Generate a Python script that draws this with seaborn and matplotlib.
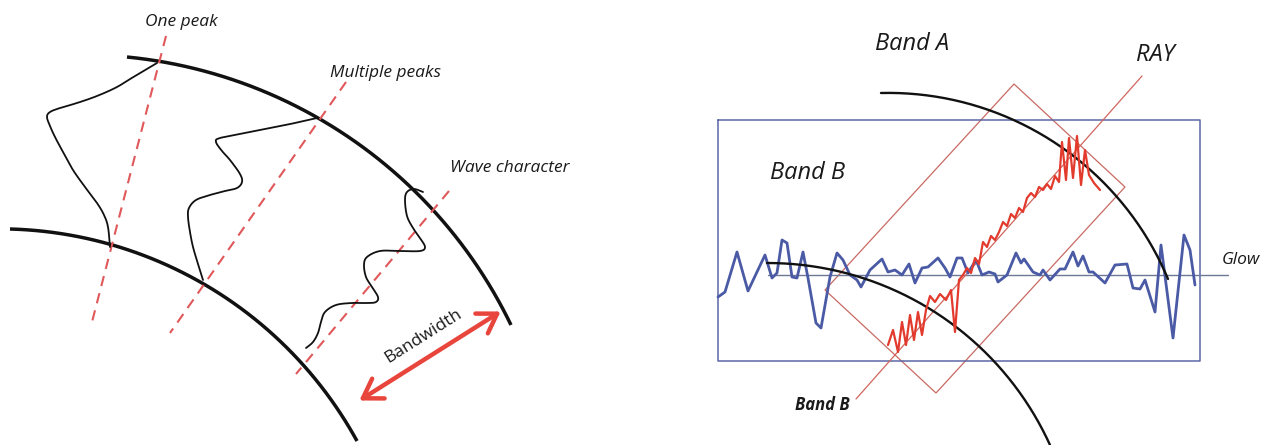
import numpy as np
import pandas as pd
import seaborn as sns
import matplotlib.pyplot as plt
from matplotlib.patches import Polygon, FancyArrowPatch

sns.set_theme(style="white")
plt.rcParams["font.family"] = ["Open Sans", "DejaVu Sans"]

# --- left panel: band edges (start, middle, end points of each arc) ---
outer_arc = [(127, 57), (318, 118), (511, 325)]
inner_arc = [(10, 229), (202, 283), (357, 441)]

# dashed red section lines (top end, bottom end)
cut_one = [(166, 36), (92, 322)]
cut_multi = [(346, 82), (170, 333)]
cut_wave = [(449, 191), (296, 374)]

# hand drawn profiles inside the band
one_peak_x = [157, 135, 117, 97, 77, 60, 50, 47, 50, 55, 63, 73, 85, 97, 104, 108, 110]
one_peak_y = [63, 76, 87, 96, 103, 108, 112, 117, 126, 137, 152, 170, 187, 203, 215, 227, 247]

multi_x = [317, 295, 270, 245, 220, 216, 222, 230, 240, 242, 237, 225, 210, 196, 189, 188, 190, 193, 198, 203]
multi_y = [118, 123, 128, 133, 138, 142, 151, 160, 174, 182, 188, 191, 195, 200, 208, 217, 232, 247, 264, 280]

wave_x = [423, 414, 407, 405, 407, 413, 420, 425, 420, 400, 380, 367, 364, 366, 372, 378, 376, 368, 352, 336, 325, 321, 318, 313, 306]
wave_y = [192, 189, 192, 200, 216, 228, 238, 247, 251, 251, 251, 257, 265, 277, 287, 297, 302, 303, 303, 305, 312, 322, 333, 342, 348]

bandwidth_arrow = [(357, 402), (503, 310)]

# --- right panel ---
band_a_arc = [(881, 93), (1117, 197), (1168, 279)]
band_b_arc = [(767, 263), (960, 330), (1050, 445)]

box_x = [718, 1200]
box_y = [120, 361]
glow_level = 275
glow_span = [768, 1228]

ray_line = [(1142, 76), (856, 399)]
ray_box = [(1014, 84), (1125, 187), (936, 393), (825, 290)]

# blue glow signal
glow_x = [718, 725, 737, 748, 765, 772, 777, 782, 787, 792, 797, 803, 808, 816, 821,
          830, 837, 843, 850, 857, 861, 870, 882, 888, 895, 902, 909, 915, 922, 928,
          938, 945, 950, 957, 962, 968, 976, 982, 989, 995, 998, 1007, 1016, 1021,
          1024, 1033, 1040, 1043, 1050, 1060, 1065, 1073, 1078, 1083, 1089, 1093,
          1105, 1115, 1127, 1133, 1140, 1145, 1155, 1161, 1173, 1184, 1190, 1195]
glow_y = [297, 292, 252, 291, 255, 278, 273, 240, 243, 277, 278, 252, 278, 323, 328,
          277, 253, 260, 275, 280, 287, 270, 259, 272, 270, 275, 264, 283, 268, 267,
          258, 268, 277, 258, 258, 273, 260, 275, 272, 274, 282, 275, 253, 263,
          259, 272, 275, 270, 280, 269, 269, 252, 266, 256, 272, 272,
          283, 265, 264, 288, 289, 280, 312, 245, 338, 235, 250, 285]

# red ray signal
ray_x = [888, 893, 898, 902, 906, 910, 914, 918, 922, 926, 930, 935, 940, 946, 951,
         955, 959, 963, 967, 971, 975, 979, 983, 987, 991, 995, 999, 1003, 1007,
         1011, 1015, 1019, 1023, 1027, 1031, 1035, 1039, 1043, 1047, 1051, 1055,
         1059, 1062, 1066, 1069, 1073, 1077, 1081, 1085, 1089, 1094, 1100]
ray_y = [345, 330, 352, 322, 345, 315, 340, 312, 335, 310, 296, 302, 294, 300, 290,
         332, 280, 275, 268, 273, 258, 264, 242, 247, 236, 240, 232, 222, 226,
         214, 218, 208, 212, 198, 193, 197, 187, 190, 184, 189, 176,
         182, 142, 180, 138, 178, 136, 185, 150, 175, 183, 190]


def arc3(p1, p2, p3, n=200):
    # circle through three points
    (x1, y1), (x2, y2), (x3, y3) = p1, p2, p3
    d = 2 * (x1 * (y2 - y3) + x2 * (y3 - y1) + x3 * (y1 - y2))
    ux = ((x1**2 + y1**2) * (y2 - y3) + (x2**2 + y2**2) * (y3 - y1) + (x3**2 + y3**2) * (y1 - y2)) / d
    uy = ((x1**2 + y1**2) * (x3 - x2) + (x2**2 + y2**2) * (x1 - x3) + (x3**2 + y3**2) * (x2 - x1)) / d
    r = np.hypot(x1 - ux, y1 - uy)
    a = np.unwrap([np.arctan2(y - uy, x - ux) for x, y in (p1, p2, p3)])
    t = np.linspace(a[0], a[2], n)
    return ux + r * np.cos(t), uy + r * np.sin(t)


def smooth(xs, ys, k=12):
    # catmull-rom through the points
    p = np.column_stack([xs, ys]).astype(float)
    p = np.vstack([p[0], p, p[-1]])
    out = []
    for i in range(1, len(p) - 2):
        p0, p1, p2, p3 = p[i - 1], p[i], p[i + 1], p[i + 2]
        for t in np.linspace(0, 1, k, endpoint=False):
            t2, t3 = t * t, t * t * t
            out.append(0.5 * ((2 * p1) + (-p0 + p2) * t + (2 * p0 - 5 * p1 + 4 * p2 - p3) * t2
                              + (-p0 + 3 * p1 - 3 * p2 + p3) * t3))
    out.append(p[-2])
    out = np.array(out)
    return out[:, 0], out[:, 1]


fig = plt.figure(figsize=(12.64, 4.45), dpi=100)
ax = fig.add_axes([0, 0, 1, 1])

black = "#111111"
dash_red = "#e0585a"
arrow_red = "#e8453c"
txt = "#1a1a1a"

# left panel
for arc in (outer_arc, inner_arc):
    ax.plot(*arc3(*arc), color=black, lw=2.5, solid_capstyle="butt")
for cut in (cut_one, cut_multi, cut_wave):
    ax.plot([cut[0][0], cut[1][0]], [cut[0][1], cut[1][1]], color=dash_red, lw=1.5,
            dashes=(5, 3.5))
for xs, ys in ((one_peak_x, one_peak_y), (multi_x, multi_y), (wave_x, wave_y)):
    ax.plot(*smooth(xs, ys), color=black, lw=1.3)

ax.add_patch(FancyArrowPatch(bandwidth_arrow[0], bandwidth_arrow[1],
                             arrowstyle="<->,head_length=11,head_width=7",
                             color=arrow_red, lw=3.2, mutation_scale=1.2))
ang = np.degrees(np.arctan2(bandwidth_arrow[0][1] - bandwidth_arrow[1][1],
                            bandwidth_arrow[1][0] - bandwidth_arrow[0][0]))
ax.text(423, 336, "Bandwidth", rotation=ang, fontsize=12.5, ha="center", va="center",
        color=txt, rotation_mode="anchor")

ax.text(181, 22, "One peak", fontsize=12.5, style="italic", ha="center", va="center", color=txt)
ax.text(385, 73, "Multiple peaks", fontsize=12.5, style="italic", ha="center", va="center", color=txt)
ax.text(510, 168, "Wave character", fontsize=12.5, style="italic", ha="center", va="center", color=txt)

# right panel
ax.plot([box_x[0], box_x[1], box_x[1], box_x[0], box_x[0]],
        [box_y[0], box_y[0], box_y[1], box_y[1], box_y[0]], color="#5b67a6", lw=1.1)
ax.plot(glow_span, [glow_level, glow_level], color="#6b7896", lw=1.0)
ax.add_patch(Polygon(ray_box, closed=True, fill=False, edgecolor="#c96a63", lw=0.9))
ax.plot([ray_line[0][0], ray_line[1][0]], [ray_line[0][1], ray_line[1][1]], color="#d0665e", lw=0.9)

sig = pd.DataFrame({"x": glow_x, "y": glow_y})
sns.lineplot(data=sig, x="x", y="y", ax=ax, color="#4a5aa5", lw=2.0, sort=False, estimator=None)

ax.plot(*arc3(*band_a_arc), color=black, lw=1.7)
ax.plot(*arc3(*band_b_arc), color=black, lw=1.7)

red = pd.DataFrame({"x": ray_x, "y": ray_y})
sns.lineplot(data=red, x="x", y="y", ax=ax, color="#e23b2e", lw=1.6, sort=False, estimator=None)

ax.text(912, 44, "Band A", fontsize=17, style="italic", ha="center", va="center", color=txt)
ax.text(1155, 55, "RAY", fontsize=17, style="italic", ha="center", va="center", color=txt)
ax.text(808, 173, "Band B", fontsize=17, style="italic", ha="center", va="center", color=txt)
ax.text(1241, 260, "Glow", fontsize=12.5, style="italic", ha="center", va="center", color=txt)
ax.text(822, 405, "Band B", fontsize=12, style="italic", weight="bold", ha="center", va="center",
        color=txt)

ax.set_xlim(0, 1264)
ax.set_ylim(445, 0)
ax.axis("off")
fig.savefig("out.png", dpi=100)
